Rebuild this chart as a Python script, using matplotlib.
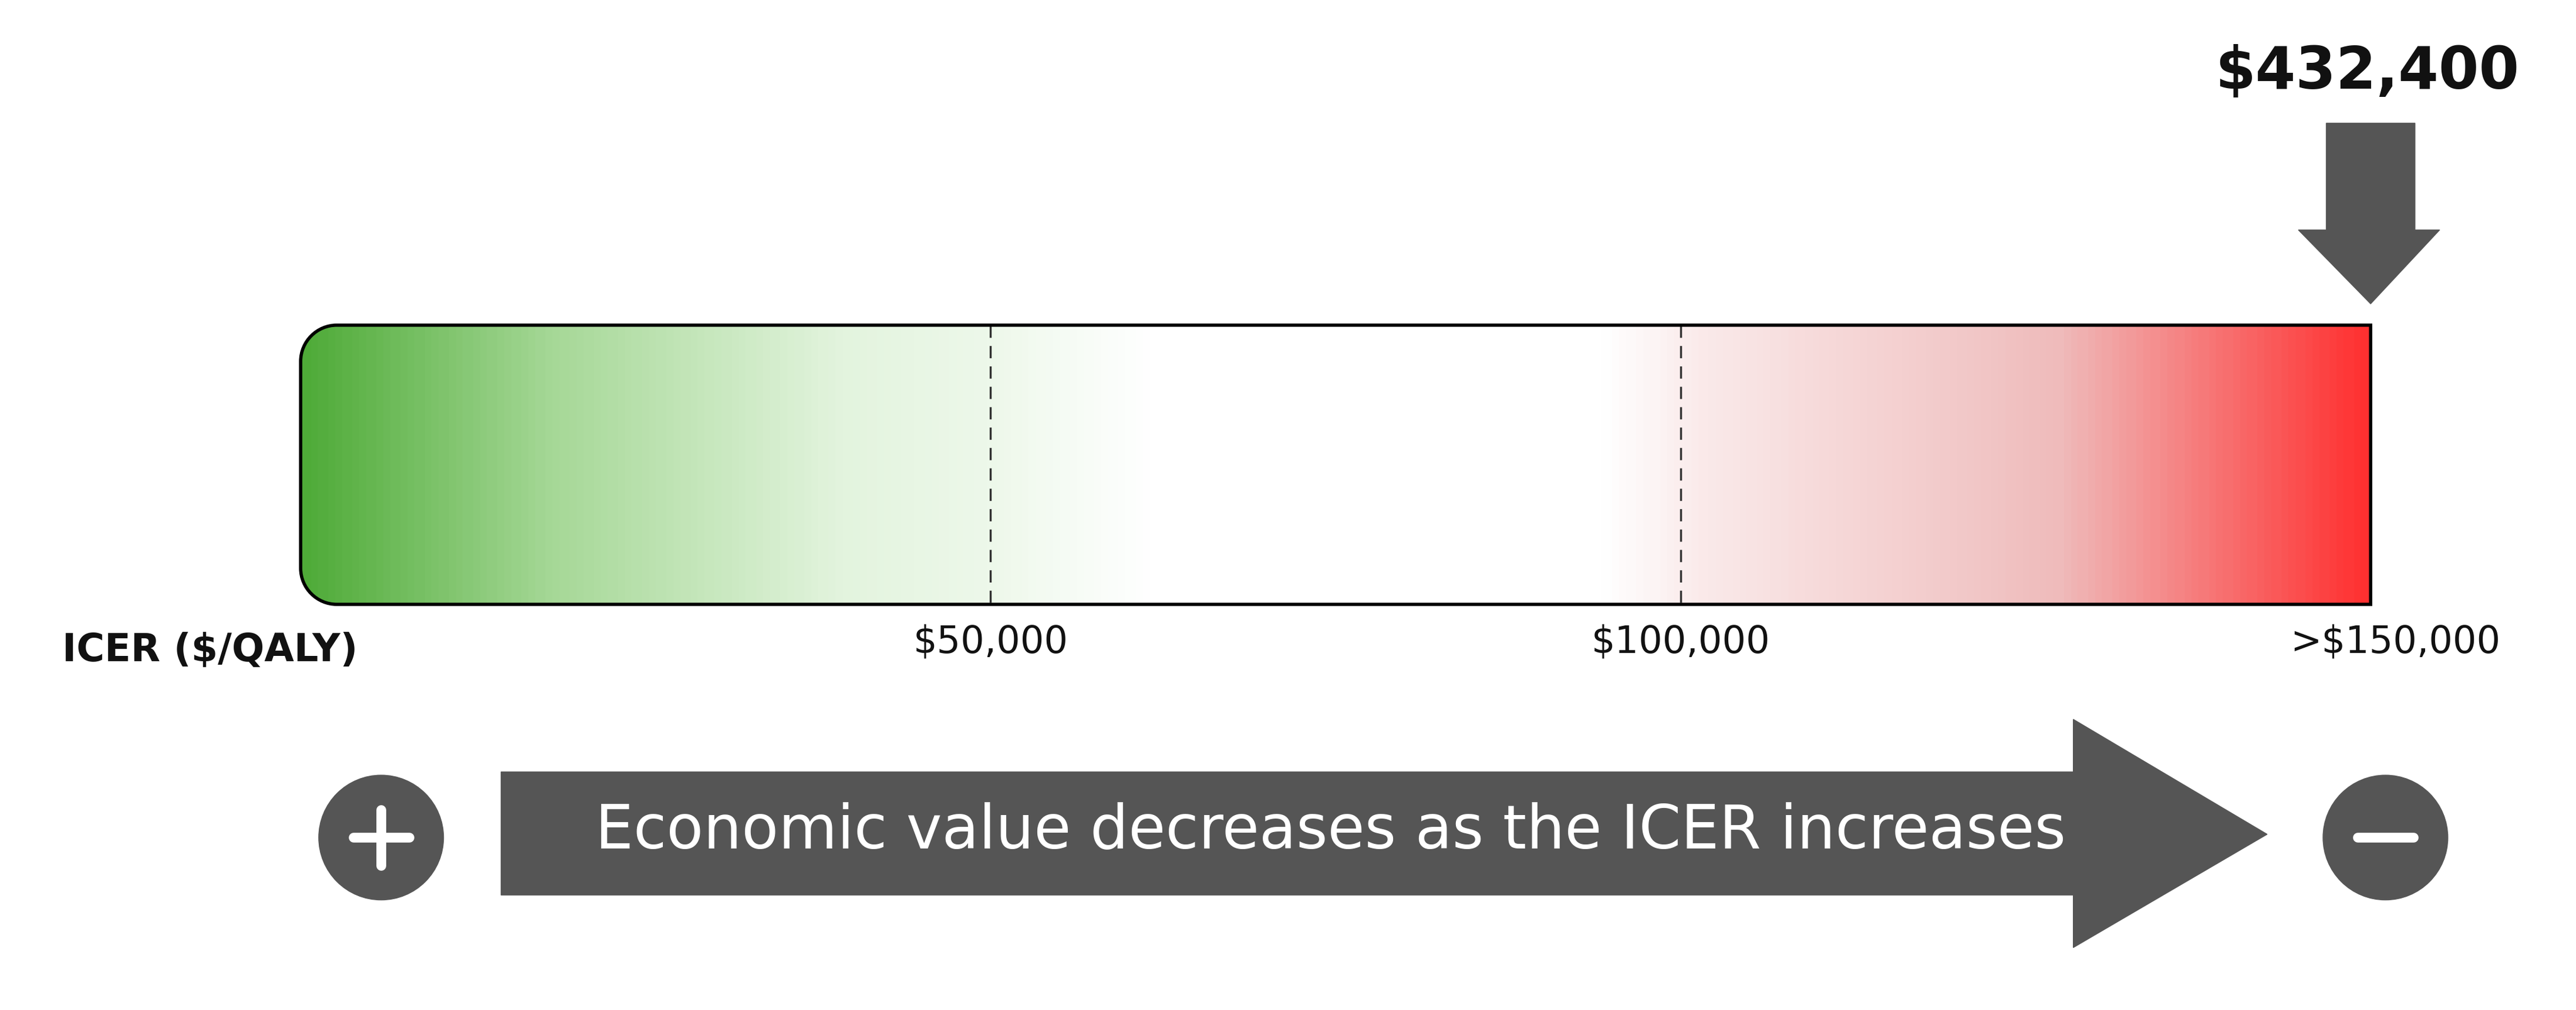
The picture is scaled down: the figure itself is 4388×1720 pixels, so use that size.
import matplotlib.pyplot as plt
import numpy as np
from matplotlib.colors import LinearSegmentedColormap
from matplotlib.patches import Polygon, Circle, PathPatch
from matplotlib.path import Path

tick_values = [50000, 100000, 150000]
tick_labels = ["$50,000", "$100,000", ">$150,000"]
axis_label = "ICER ($/QALY)"
icer_value = 432400
icer_label = "$432,400"
arrow_text = "Economic value decreases as the ICER increases"

plt.rcParams['font.family'] = ['DejaVu Sans']
DARK = "#555555"

fig = plt.figure(figsize=(43.88, 17.2), dpi=100)
ax = fig.add_axes([0, 0, 1, 1])
ax.set_xlim(0, 1568)
ax.set_ylim(615, 0)
ax.axis("off")

x0, x1 = 183, 1443   # bar ends in display units
y0, y1 = 198, 368
vmax = tick_values[-1]
def xpos(v):
    return x0 + (x1 - x0) * min(v, vmax) / vmax

# gradient bar
cmap = LinearSegmentedColormap.from_list("icer", [
    (0.0, "#4fab38"), (0.12, "#a6d897"), (0.26, "#e3f4de"), (0.33, "#edf8ea"),
    (0.41, "#ffffff"), (0.63, "#ffffff"), (0.68, "#fae9e9"), (0.85, "#efbcbc"),
    (1.0, "#ff3030")])
grad = np.linspace(0, 1, 600).reshape(1, -1)
im = ax.imshow(grad, cmap=cmap, extent=[x0, x1, y1, y0], aspect="auto", zorder=1)

r = 22
k = 0.55 * r
verts = [(x1, y0), (x0 + r, y0), (x0 + r - k, y0), (x0, y0 + r - k), (x0, y0 + r),
         (x0, y1 - r), (x0, y1 - r + k), (x0 + r - k, y1), (x0 + r, y1),
         (x1, y1), (x1, y0)]
codes = [Path.MOVETO, Path.LINETO, Path.CURVE4, Path.CURVE4, Path.CURVE4,
         Path.LINETO, Path.CURVE4, Path.CURVE4, Path.CURVE4, Path.LINETO, Path.CLOSEPOLY]
bar = PathPatch(Path(verts, codes), fill=False, edgecolor="black", lw=4, zorder=3)
ax.add_patch(bar)
im.set_clip_path(bar)

for v, lab in zip(tick_values, tick_labels):
    xp = xpos(v)
    if v < vmax:
        ax.plot([xp, xp], [y0, y1], ls=(0, (6, 4)), color="#333333", lw=2.5, zorder=2)
    ax.text(xp + (15 if v == vmax else 0), 391, lab, ha="center", va="center",
            fontsize=46, color="#111111")
ax.text(38, 396, axis_label, ha="left", va="center", fontsize=47,
        fontweight="bold", color="#111111")

# value marker arrow
xv = xpos(icer_value)
ax.add_patch(Polygon([(xv - 27, 75), (xv + 27, 75), (xv + 27, 140), (xv + 42, 140),
                      (xv, 185), (xv - 44, 140), (xv - 27, 140)],
                     closed=True, color=DARK, zorder=4))
ax.text(xv - 2, 44, icer_label, ha="center", va="center", fontsize=71,
        fontweight="bold", color="#111111")

# big arrow
ax.add_patch(Polygon([(305, 470), (1262, 470), (1262, 438), (1380, 508),
                      (1262, 577), (1262, 545), (305, 545)],
                     closed=True, color=DARK, zorder=4))
ax.text(810, 506, arrow_text, ha="center", va="center", fontsize=74,
        color="white", zorder=5)

# plus / minus circles
for cx, sym in [(232, "+"), (1452, "-")]:
    ax.add_patch(Circle((cx, 510), 38, color=DARK, zorder=4))
    ax.plot([cx - 17, cx + 17], [510, 510], color="white", lw=12,
            solid_capstyle="round", zorder=5)
    if sym == "+":
        ax.plot([cx, cx], [493, 527], color="white", lw=12,
                solid_capstyle="round", zorder=5)

fig.savefig("out.png", dpi=100)
